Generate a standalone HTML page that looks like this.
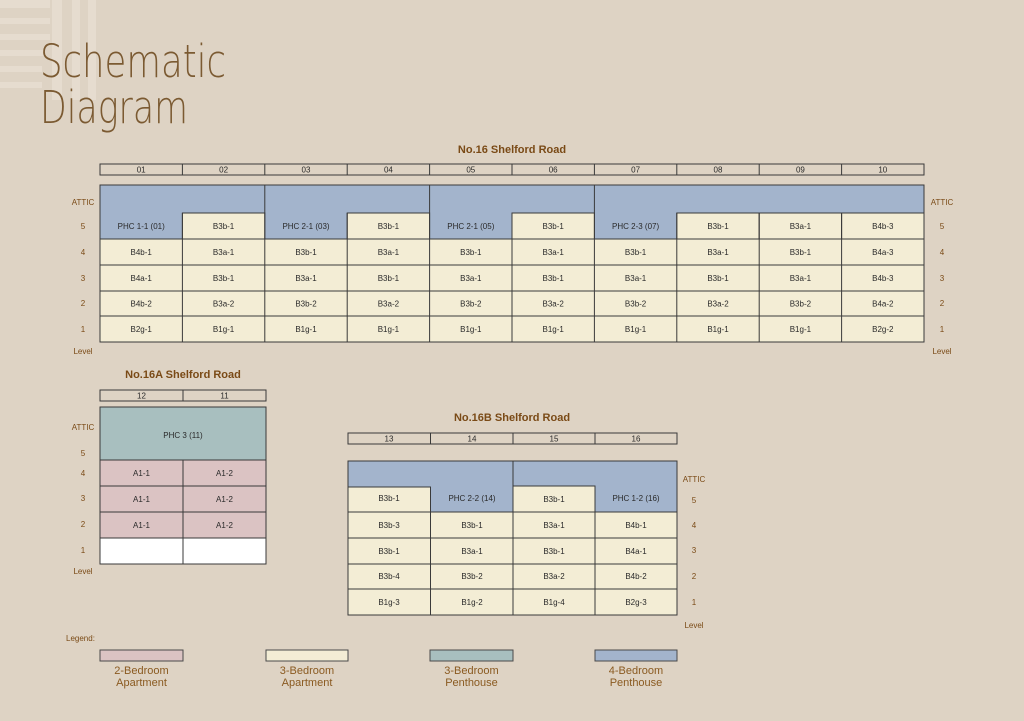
<!DOCTYPE html>
<html><head><meta charset="utf-8"><style>
html,body{margin:0;padding:0;background:#ded3c4;}
svg{display:block;font-family:"Liberation Sans",Arial,sans-serif;}
.c{font-size:8px;fill:#2a2a2a;text-anchor:middle;}
.l{font-size:8px;fill:#7a4a16;text-anchor:middle;}
.h{font-size:11px;font-weight:bold;fill:#7a4a16;text-anchor:middle;}
.g{font-size:11px;fill:#8a5a20;text-anchor:middle;}
</style></head><body>
<svg width="1024" height="721" viewBox="0 0 1024 721">
<rect width="1024" height="721" fill="#ded3c4"/>
<!-- decorative stripes -->
<g fill="#e6dccf">
<rect x="0" y="0" width="50" height="8"/><rect x="0" y="18" width="50" height="6"/><rect x="0" y="34" width="50" height="6"/><rect x="0" y="50" width="45" height="6"/><rect x="0" y="66" width="42" height="6"/><rect x="0" y="82" width="42" height="6"/>
<rect x="52" y="0" width="10" height="100"/><rect x="72" y="0" width="8" height="100"/><rect x="88" y="0" width="8" height="100"/>
</g>
<text x="40" y="77" font-size="45" fill="#7b5a32" font-family="DejaVu Sans, sans-serif" font-weight="200" textLength="186" lengthAdjust="spacingAndGlyphs">Schematic</text>
<text x="40" y="123" font-size="45" fill="#7b5a32" font-family="DejaVu Sans, sans-serif" font-weight="200" textLength="148" lengthAdjust="spacingAndGlyphs">Diagram</text>

<!-- Main No.16 -->
<text class="h" x="512" y="153">No.16 Shelford Road</text>
<g stroke="#3a3a3a" stroke-width="1" fill="none">
<rect x="100" y="164" width="824" height="11"/>
<line x1="182.4" y1="164" x2="182.4" y2="175"/><line x1="264.8" y1="164" x2="264.8" y2="175"/><line x1="347.2" y1="164" x2="347.2" y2="175"/><line x1="429.6" y1="164" x2="429.6" y2="175"/><line x1="512" y1="164" x2="512" y2="175"/><line x1="594.4" y1="164" x2="594.4" y2="175"/><line x1="676.8" y1="164" x2="676.8" y2="175"/><line x1="759.2" y1="164" x2="759.2" y2="175"/><line x1="841.6" y1="164" x2="841.6" y2="175"/>
</g>
<g class="c">
<text x="141.2" y="172.5">01</text><text x="223.6" y="172.5">02</text><text x="306" y="172.5">03</text><text x="388.4" y="172.5">04</text><text x="470.8" y="172.5">05</text><text x="553.2" y="172.5">06</text><text x="635.6" y="172.5">07</text><text x="718" y="172.5">08</text><text x="800.4" y="172.5">09</text><text x="882.8" y="172.5">10</text>
</g>
<rect x="100" y="185" width="824" height="54" fill="#a3b4cc"/>
<rect x="100" y="239" width="824" height="103" fill="#f3edd5"/>
<g fill="#f3edd5" stroke="#3a3a3a">
<rect x="182.4" y="213" width="82.4" height="26"/><rect x="347.2" y="213" width="82.4" height="26"/><rect x="512" y="213" width="82.4" height="26"/>
<rect x="676.8" y="213" width="82.4" height="26"/><rect x="759.2" y="213" width="82.4" height="26"/><rect x="841.6" y="213" width="82.4" height="26"/>
</g>
<g stroke="#3a3a3a" fill="none">
<rect x="100" y="185" width="824" height="157"/>
<line x1="264.8" y1="185" x2="264.8" y2="342"/><line x1="429.6" y1="185" x2="429.6" y2="342"/><line x1="594.4" y1="185" x2="594.4" y2="342"/>
<line x1="182.4" y1="213" x2="182.4" y2="342"/><line x1="347.2" y1="213" x2="347.2" y2="342"/><line x1="512" y1="213" x2="512" y2="342"/><line x1="676.8" y1="213" x2="676.8" y2="342"/><line x1="759.2" y1="213" x2="759.2" y2="342"/><line x1="841.6" y1="213" x2="841.6" y2="342"/>
<line x1="100" y1="239" x2="924" y2="239"/><line x1="100" y1="265" x2="924" y2="265"/><line x1="100" y1="291" x2="924" y2="291"/><line x1="100" y1="316" x2="924" y2="316"/>
</g>
<g class="c">
<text x="141.2" y="229">PHC 1-1 (01)</text><text x="223.6" y="229">B3b-1</text><text x="306" y="229">PHC 2-1 (03)</text><text x="388.4" y="229">B3b-1</text><text x="470.8" y="229">PHC 2-1 (05)</text><text x="553.2" y="229">B3b-1</text><text x="635.6" y="229">PHC 2-3 (07)</text><text x="718" y="229">B3b-1</text><text x="800.4" y="229">B3a-1</text><text x="882.8" y="229">B4b-3</text>
<text x="141.2" y="255">B4b-1</text><text x="223.6" y="255">B3a-1</text><text x="306" y="255">B3b-1</text><text x="388.4" y="255">B3a-1</text><text x="470.8" y="255">B3b-1</text><text x="553.2" y="255">B3a-1</text><text x="635.6" y="255">B3b-1</text><text x="718" y="255">B3a-1</text><text x="800.4" y="255">B3b-1</text><text x="882.8" y="255">B4a-3</text>
<text x="141.2" y="281">B4a-1</text><text x="223.6" y="281">B3b-1</text><text x="306" y="281">B3a-1</text><text x="388.4" y="281">B3b-1</text><text x="470.8" y="281">B3a-1</text><text x="553.2" y="281">B3b-1</text><text x="635.6" y="281">B3a-1</text><text x="718" y="281">B3b-1</text><text x="800.4" y="281">B3a-1</text><text x="882.8" y="281">B4b-3</text>
<text x="141.2" y="306.5">B4b-2</text><text x="223.6" y="306.5">B3a-2</text><text x="306" y="306.5">B3b-2</text><text x="388.4" y="306.5">B3a-2</text><text x="470.8" y="306.5">B3b-2</text><text x="553.2" y="306.5">B3a-2</text><text x="635.6" y="306.5">B3b-2</text><text x="718" y="306.5">B3a-2</text><text x="800.4" y="306.5">B3b-2</text><text x="882.8" y="306.5">B4a-2</text>
<text x="141.2" y="332">B2g-1</text><text x="223.6" y="332">B1g-1</text><text x="306" y="332">B1g-1</text><text x="388.4" y="332">B1g-1</text><text x="470.8" y="332">B1g-1</text><text x="553.2" y="332">B1g-1</text><text x="635.6" y="332">B1g-1</text><text x="718" y="332">B1g-1</text><text x="800.4" y="332">B1g-1</text><text x="882.8" y="332">B2g-2</text>
</g>
<g class="l">
<text x="83" y="205">ATTIC</text><text x="83" y="229">5</text><text x="83" y="255">4</text><text x="83" y="281">3</text><text x="83" y="306">2</text><text x="83" y="332">1</text><text x="83" y="354">Level</text>
<text x="942" y="205">ATTIC</text><text x="942" y="229">5</text><text x="942" y="255">4</text><text x="942" y="281">3</text><text x="942" y="306">2</text><text x="942" y="332">1</text><text x="942" y="354">Level</text>
</g>

<!-- No.16A -->
<text class="h" x="183" y="378">No.16A Shelford Road</text>
<rect x="100" y="390" width="166" height="11" fill="none" stroke="#3a3a3a"/><line x1="183" y1="390" x2="183" y2="401" stroke="#3a3a3a"/>
<text class="c" x="141.5" y="398.5">12</text><text class="c" x="224.5" y="398.5">11</text>
<rect x="100" y="407" width="166" height="53" fill="#a8bfbf" stroke="#3a3a3a"/>
<rect x="100" y="460" width="166" height="78" fill="#dbc3c3" stroke="#3a3a3a"/>
<rect x="100" y="538" width="166" height="26" fill="#ffffff" stroke="#3a3a3a"/>
<g stroke="#3a3a3a"><line x1="183" y1="460" x2="183" y2="564"/><line x1="100" y1="486" x2="266" y2="486"/><line x1="100" y1="512" x2="266" y2="512"/></g>
<g class="c">
<text x="183" y="438">PHC 3 (11)</text>
<text x="141.5" y="476">A1-1</text><text x="224.5" y="476">A1-2</text>
<text x="141.5" y="502">A1-1</text><text x="224.5" y="502">A1-2</text>
<text x="141.5" y="528">A1-1</text><text x="224.5" y="528">A1-2</text>
</g>
<g class="l"><text x="83" y="430">ATTIC</text><text x="83" y="456">5</text><text x="83" y="476">4</text><text x="83" y="501">3</text><text x="83" y="527">2</text><text x="83" y="553">1</text><text x="83" y="574">Level</text></g>

<!-- No.16B -->
<text class="h" x="512" y="421">No.16B Shelford Road</text>
<rect x="348" y="433" width="329" height="11" fill="none" stroke="#3a3a3a"/>
<g stroke="#3a3a3a"><line x1="430.5" y1="433" x2="430.5" y2="444"/><line x1="513" y1="433" x2="513" y2="444"/><line x1="595" y1="433" x2="595" y2="444"/></g>
<g class="c"><text x="389" y="441.5">13</text><text x="472" y="441.5">14</text><text x="554" y="441.5">15</text><text x="636" y="441.5">16</text></g>
<rect x="348" y="461" width="329" height="51" fill="#a3b4cc"/>
<rect x="348" y="512" width="329" height="103" fill="#f3edd5"/>
<rect x="348" y="487" width="82.5" height="25" fill="#f3edd5" stroke="#3a3a3a"/>
<rect x="513" y="486" width="82" height="26" fill="#f3edd5" stroke="#3a3a3a"/>
<g stroke="#3a3a3a" fill="none">
<rect x="348" y="461" width="329" height="154"/>
<line x1="513" y1="461" x2="513" y2="615"/><line x1="430.5" y1="487" x2="430.5" y2="615"/><line x1="595" y1="486" x2="595" y2="615"/>
<line x1="348" y1="512" x2="677" y2="512"/><line x1="348" y1="538" x2="677" y2="538"/><line x1="348" y1="564" x2="677" y2="564"/><line x1="348" y1="589" x2="677" y2="589"/>
</g>
<g class="c">
<text x="389" y="501">B3b-1</text><text x="472" y="501">PHC 2-2 (14)</text><text x="554" y="502">B3b-1</text><text x="636" y="501">PHC 1-2 (16)</text>
<text x="389" y="528">B3b-3</text><text x="472" y="528">B3b-1</text><text x="554" y="528">B3a-1</text><text x="636" y="528">B4b-1</text>
<text x="389" y="554">B3b-1</text><text x="472" y="554">B3a-1</text><text x="554" y="554">B3b-1</text><text x="636" y="554">B4a-1</text>
<text x="389" y="579">B3b-4</text><text x="472" y="579">B3b-2</text><text x="554" y="579">B3a-2</text><text x="636" y="579">B4b-2</text>
<text x="389" y="605">B1g-3</text><text x="472" y="605">B1g-2</text><text x="554" y="605">B1g-4</text><text x="636" y="605">B2g-3</text>
</g>
<g class="l"><text x="694" y="482">ATTIC</text><text x="694" y="503">5</text><text x="694" y="528">4</text><text x="694" y="553">3</text><text x="694" y="579">2</text><text x="694" y="605">1</text><text x="694" y="628">Level</text></g>

<!-- Legend -->
<text x="66" y="641" font-size="8" fill="#7a4a16">Legend:</text>
<g stroke="#4a4a4a">
<rect x="100" y="650" width="83" height="11" fill="#dbc3c3"/>
<rect x="266" y="650" width="82" height="11" fill="#f3edd5"/>
<rect x="430" y="650" width="83" height="11" fill="#a8bfbf"/>
<rect x="595" y="650" width="82" height="11" fill="#a3b4cc"/>
</g>
<g class="g">
<text x="141.5" y="674">2-Bedroom</text><text x="141.5" y="686">Apartment</text>
<text x="307" y="674">3-Bedroom</text><text x="307" y="686">Apartment</text>
<text x="471.5" y="674">3-Bedroom</text><text x="471.5" y="686">Penthouse</text>
<text x="636" y="674">4-Bedroom</text><text x="636" y="686">Penthouse</text>
</g>
</svg>
</body></html>
